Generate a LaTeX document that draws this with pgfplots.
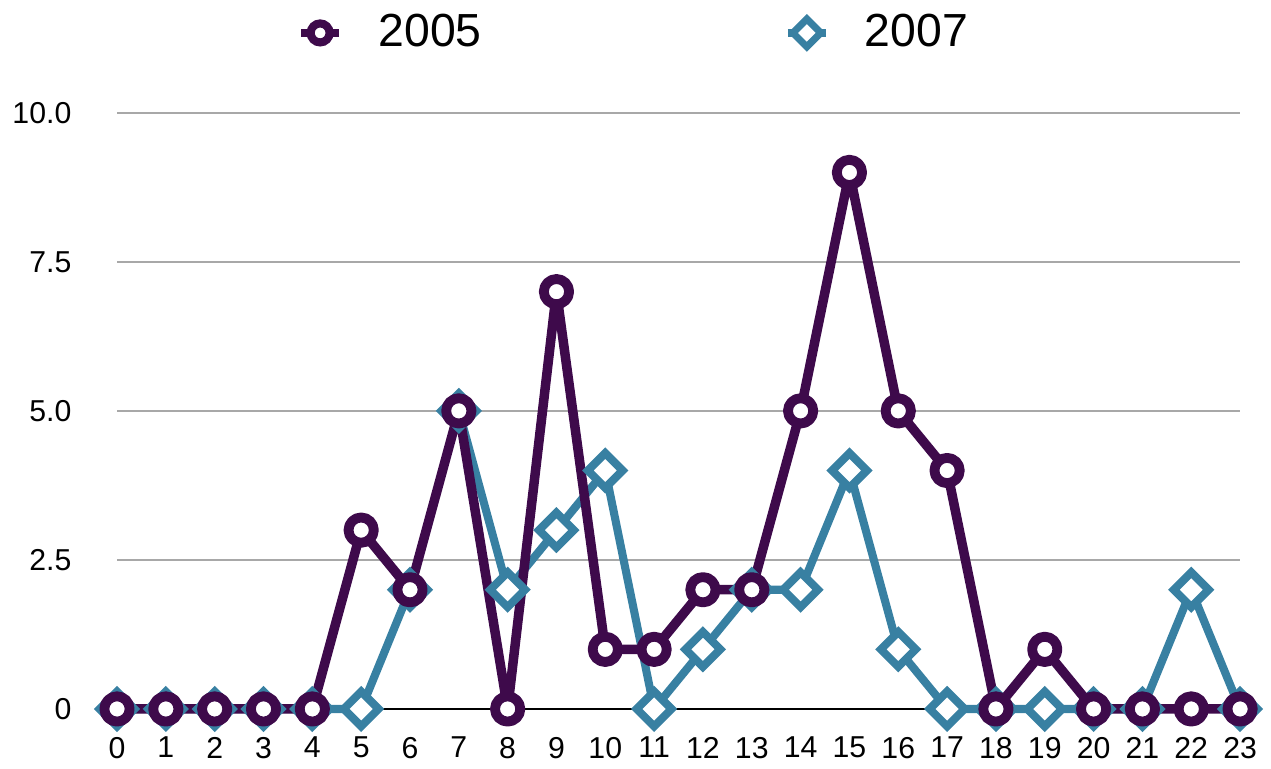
\documentclass[border=0pt]{standalone}
\usepackage{pgfplots}
\pgfplotsset{compat=1.18}
\usepackage{fontspec}
\setmainfont{Liberation Sans}
\definecolor{cpur}{HTML}{3E0A4B}
\definecolor{cteal}{HTML}{3880A2}
\definecolor{cgrid}{HTML}{A8A8A8}
\begin{document}
\begin{tikzpicture}
\path[use as bounding box] (-33.29pt,-17.07pt) rectangle (328.3pt,201.7pt);
\begin{axis}[
  at={(0pt,0pt)}, anchor=south west,
  scale only axis, width=319.5pt, height=169.6pt,
  xmin=0, xmax=23, ymin=0, ymax=10,
  clip=false,
  axis line style={draw=none},
  major tick length=0pt,
  xtick={0,...,23},
  ytick={2.5,5,7.5,10},
  extra y ticks={0},
  extra y tick labels={0},
  extra y tick style={grid=none},
  yticklabels={2.5,5.0,7.5,10.0},
  ymajorgrids,
  grid style={cgrid, line width=0.6pt},
  /pgf/number format/assume math mode=true,
  tick label style={font=\fontsize{8.6}{10}\selectfont, inner sep=0pt},
  yticklabel style={anchor=east, xshift=-12.8pt},
  xticklabel style={anchor=north, yshift=-7.8pt},
  legend columns=2,
  legend style={draw=none, fill=none, at={(0.459,1.134)}, anchor=center,
    font=\fontsize{13.2}{15}\selectfont,
    nodes={inner sep=0pt},
    /tikz/every odd column/.append style={column sep=10pt},
    /tikz/every even column/.append style={column sep=86pt}},
  legend cell align=left,
  legend image code/.code={\draw[mark repeat=2,mark phase=2] plot coordinates {(0pt,0pt)(5.4pt,0pt)(10.8pt,0pt)};},
]
\draw[black, line width=0.6pt] (axis cs:0,0) -- (axis cs:23,0);
\addlegendimage{cpur, line width=2.4pt, mark=*, mark size=2.7pt, mark options={fill=white, line width=2.3pt}}
\addlegendentry{2005}
\addlegendimage{cteal, line width=2.2pt, mark=square*, mark size=2.8pt, mark options={fill=white, line width=2pt, rotate=45, line join=miter}}
\addlegendentry{2007}
\addplot[forget plot, cteal, line width=2.3pt, line join=round, mark=square*, mark size=3.5pt, mark options={fill=white, line width=2.3pt, rotate=45, line join=miter}] coordinates {
(0,0)(1,0)(2,0)(3,0)(4,0)(5,0)(6,2)(7,5)(8,2)(9,3)(10,4)(11,0)(12,1)(13,2)(14,2)(15,4)(16,1)(17,0)(18,0)(19,0)(20,0)(21,0)(22,2)(23,0)};
\addplot[forget plot, cpur, line width=2.7pt, line join=round, mark=*, mark size=3.6pt, mark options={fill=white, line width=2.8pt}] coordinates {
(0,0)(1,0)(2,0)(3,0)(4,0)(5,3)(6,2)(7,5)(8,0)(9,7)(10,1)(11,1)(12,2)(13,2)(14,5)(15,9)(16,5)(17,4)(18,0)(19,1)(20,0)(21,0)(22,0)(23,0)};
\end{axis}
\end{tikzpicture}
\end{document}
